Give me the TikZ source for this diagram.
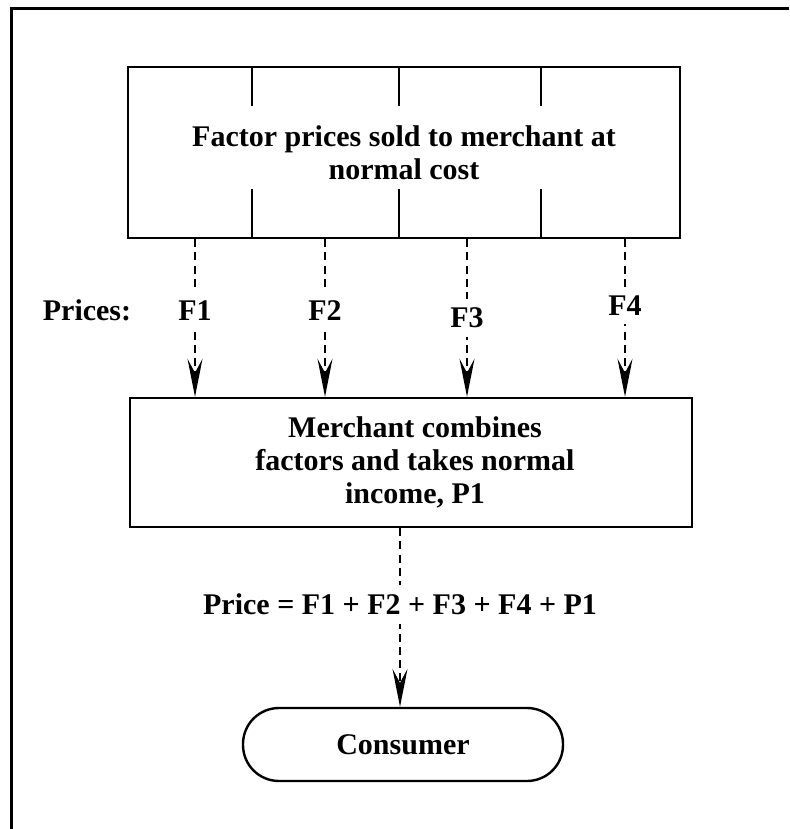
\documentclass[tikz,border=0pt]{standalone}
\usepackage{fontspec}
\setmainfont{Liberation Serif}
\usepackage{tikz}
\usetikzlibrary{arrows.meta,positioning}

\begin{document}
\begin{tikzpicture}[
  x=0.5pt, y=-0.5pt,
  every node/.style={font=\fontsize{15}{16.5}\selectfont\bfseries},
  box/.style={draw, line width=1.2pt, align=center, inner sep=0pt},
  lbl/.style={inner sep=2pt},
  onpath/.style={lbl, inner ysep=4pt, fill=white, draw=white, solid},
  arrow/.style={dashed, dash pattern=on 4pt off 2.6pt, line width=1pt,
                -{Stealth[length=19pt, width=7.5pt, inset=7pt]}}
]
  \useasboundingbox (0,0) rectangle (789,829);
  % outer frame (only top and left edges show)
  \draw[line width=1.5pt] (11,829) -- (11,9) -- (789,9);

  % layer 1: factor box
  \node[box, minimum width=276pt, minimum height=85.5pt] (fac) at (404,152.5)
    {Factor prices sold to merchant at\\normal cost};
  \foreach \x in {252,399,541}
    \draw[line width=1.2pt] (\x,67) -- (\x,106) (\x,189) -- (\x,238);

  % layer 2: merchant
  \node[box, minimum width=281pt, minimum height=64.5pt] (merch) at (411,462.5)
    {\hspace*{4pt}Merchant combines\\\hspace*{4pt}factors and takes normal\\\hspace*{4pt}income, P1};

  % layer 3: consumer
  \node[box, rounded corners=18pt, minimum width=160pt, minimum height=36.5pt] (cons) at (403,744.5) {Consumer};

  % price flows
  \node[lbl] (prices) at (87,310) {Prices:};
  \coordinate (a1) at (195,0);
  \coordinate (a2) at (325,0);
  \coordinate (a3) at (467,0);
  \coordinate (a4) at (625,0);
  \coordinate (a5) at (400,0);
  \draw[arrow] (fac.south -| a1) -- node[onpath, pos=0.45] (f1) {F1} (a1 |- merch.north);
  \draw[arrow] (fac.south -| a2) -- node[onpath, pos=0.45] (f2) {F2} (a2 |- merch.north);
  \draw[arrow] (fac.south -| a3) -- node[onpath, pos=0.50] (f3) {F3} (a3 |- merch.north);
  \draw[arrow] (fac.south -| a4) -- node[onpath, pos=0.42] (f4) {F4} (a4 |- merch.north);
  \draw[arrow] (merch.south -| a5) -- node[onpath, pos=0.425] (price) {Price = F1 + F2 + F3 + F4 + P1} (a5 |- cons.north);
\end{tikzpicture}
\end{document}
